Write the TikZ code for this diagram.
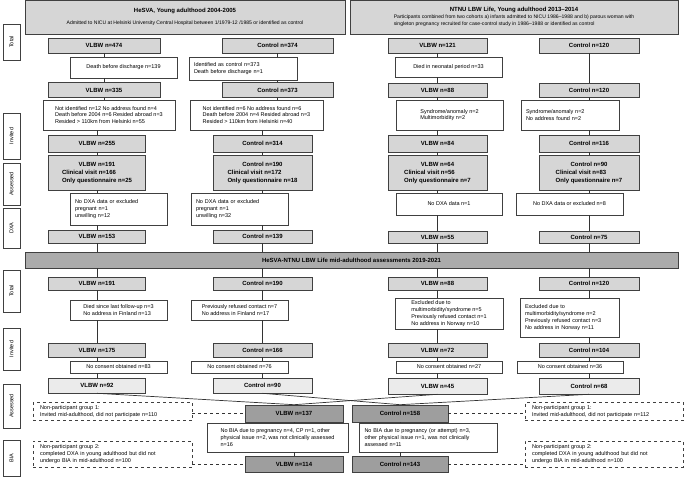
\documentclass[tikz,border=0pt]{standalone}
\usepackage{fontspec}
\setmainfont{Liberation Sans}
\begin{document}
\begin{tikzpicture}[x=1pt,y=-1pt,
    every node/.style={font=\fontsize{5.5}{6.8}\selectfont},
    box/.style={draw=black!75, line width=0.6pt, inner sep=1pt},
    gbox/.style={box, fill=black!16, font=\fontsize{6}{8}\selectfont\bfseries},
    lgbox/.style={gbox, fill=black!8},
    dgbox/.style={gbox, fill=black!38},
    hbox/.style={box, fill=black!16, align=center, font=\fontsize{5.1}{6.8}\selectfont},
    tbox/.style={box, fill=white, align=left},
    ltbox/.style={tbox, inner xsep=5pt},
    side/.style={box, fill=white, rotate=90, minimum height=17pt},
    npbox/.style={draw=black!75, dashed, line width=0.6pt, align=left, inner xsep=7pt, text width=145pt},
    link/.style={draw=black!80, line width=0.7pt}]
\useasboundingbox (0,0) rectangle (685,478);

% side labels
\node[side, minimum width=36pt] (sT1) at (11.5,42) {Total};
\node[side, minimum width=46pt] (sI1) at (11.5,136) {Invited};
\node[side, minimum width=42pt] (sA1) at (11.5,184) {Assessed};
\node[side, minimum width=40pt] (sD1) at (11.5,228) {DXA};
\node[side, minimum width=42pt] (sT2) at (11.5,291) {Total};
\node[side, minimum width=42pt] (sI2) at (11.5,349) {Invited};
\node[side, minimum width=44pt] (sA2) at (11.5,406) {Assessed};
\node[side, minimum width=36pt] (sB) at (11.5,458) {BIA};

% headers
\node[hbox, minimum width=320pt, minimum height=34pt] (hes) at (185,17)
    {{\fontsize{6}{7}\selectfont\bfseries HeSVA, Young adulthood 2004-2005}\\[5pt]
     Admitted to NICU at Helsinki University Central Hospital between 1/1979-12 /1985 or identified as control};
\node[hbox, minimum width=328pt, minimum height=34pt] (ntnu) at (514,17)
    {\begin{tabular}{@{}l@{}}\multicolumn{1}{@{}c@{}}{\fontsize{6}{7}\selectfont\bfseries NTNU LBW Life, Young adulthood 2013–2014}\\[1pt]
     Participants combined from two cohorts a) infants admitted to NICU 1986–1988 and b) parous woman with\\
     singleton pregnancy recruited for case-control study in 1986–1988 or identified as control\end{tabular}};
\node[gbox, fill=black!33, minimum width=653pt, minimum height=16pt] (banner) at (351.5,260)
    {HeSVA-NTNU LBW Life mid-adulthood assessments 2019-2021};

% HeSVA, VLBW
\node[gbox, minimum width=112pt, minimum height=15pt] (v474) at (104,45.5) {VLBW n=474};
\node[tbox, minimum width=107pt, minimum height=21pt] (d139) at (123.5,67.5) {Death before discharge n=139};
\node[gbox, minimum width=112pt, minimum height=15pt] (v335) at (104,90) {VLBW n=335};
\node[tbox, minimum width=132pt, minimum height=30pt] (nid1) at (109,115)
    {Not identified n=12 No address found n=4\\Death before 2004 n=6 Resided abroad n=3\\Resided > 110km from Helsinki n=55};
\node[gbox, minimum width=97pt, minimum height=17pt] (v255) at (97,143.5) {VLBW n=255};
\node[gbox, minimum width=97pt, minimum height=35pt] (v191) at (97,172.5)
    {\begin{tabular}{@{}l@{}}\multicolumn{1}{@{}c@{}}{VLBW n=191}\\Clinical visit n=166\\Only questionnaire n=25\end{tabular}};
\node[ltbox, text width=87pt, minimum height=32pt] (nd1) at (118.5,209)
    {No DXA data or excluded\\pregnant n=1\\unwilling n=12};
\node[gbox, minimum width=97pt, minimum height=13pt] (v153) at (97,236.5) {VLBW n=153};
\node[gbox, minimum width=97pt, minimum height=13pt] (v191b) at (97,283.5) {VLBW n=191};
\node[tbox, minimum width=97pt, minimum height=20pt] (dsl) at (118.5,310)
    {Died since last follow-up n=3\\No address in Finland n=13};
\node[gbox, minimum width=97pt, minimum height=14pt] (v175) at (97,350) {VLBW n=175};
\node[tbox, minimum width=97pt, minimum height=12pt] (nc83) at (118.5,367) {No consent obtained n=83};
\node[lgbox, minimum width=97pt, minimum height=15pt] (v92) at (97,385.5) {VLBW n=92};

% HeSVA, control
\node[gbox, minimum width=111pt, minimum height=15pt] (c374) at (277.5,45.5) {Control n=374};
\node[ltbox, text width=98pt, minimum height=23pt] (idc) at (243,68.5)
    {Identified as control n=373\\Death before discharge n=1};
\node[gbox, minimum width=111pt, minimum height=15pt] (c373) at (277.5,90) {Control n=373};
\node[tbox, minimum width=133pt, minimum height=30pt] (nid2) at (256.5,115)
    {Not identified n=6 No address found n=6\\Death before 2004 n=4 Resided abroad n=3\\Resided > 110km from Helsinki n=40};
\node[gbox, minimum width=99pt, minimum height=17pt] (c314) at (262.5,143.5) {Control n=314};
\node[gbox, minimum width=99pt, minimum height=35pt] (c190) at (262.5,172.5)
    {\begin{tabular}{@{}l@{}}\multicolumn{1}{@{}c@{}}{Control n=190}\\Clinical visit n=172\\Only questionnaire n=18\end{tabular}};
\node[ltbox, text width=87pt, minimum height=32pt] (ndc) at (239.5,209)
    {No DXA data or excluded\\pregnant n=1\\unwilling n=32};
\node[gbox, minimum width=99pt, minimum height=13pt] (c139) at (262.5,236.5) {Control n=139};
\node[gbox, minimum width=99pt, minimum height=13pt] (c190b) at (262.5,283.5) {Control n=190};
\node[tbox, minimum width=97pt, minimum height=20pt] (prc) at (239.5,310)
    {Previously refused contact n=7\\No address in Finland n=17};
\node[gbox, minimum width=99pt, minimum height=14pt] (c166) at (262.5,350) {Control n=166};
\node[tbox, minimum width=97pt, minimum height=12pt] (nc76) at (239.5,367) {No consent obtained n=76};
\node[lgbox, minimum width=99pt, minimum height=15pt] (c90) at (262.5,385.5) {Control n=90};

% NTNU, VLBW
\node[gbox, minimum width=99pt, minimum height=15pt] (n121) at (437.5,45.5) {VLBW n=121};
\node[tbox, minimum width=107pt, minimum height=20pt] (dnp) at (448.5,67) {Died in neonatal period n=33};
\node[gbox, minimum width=99pt, minimum height=14pt] (n88) at (437.5,90) {VLBW n=88};
\node[tbox, minimum width=107pt, minimum height=30pt] (syn1) at (449.5,115)
    {Syndrome/anomaly n=2\\Multimorbidity n=2};
\node[gbox, minimum width=99pt, minimum height=17pt] (n84) at (437.5,143.5) {VLBW n=84};
\node[gbox, minimum width=99pt, minimum height=35pt] (n64) at (437.5,172.5)
    {\begin{tabular}{@{}l@{}}\multicolumn{1}{@{}c@{}}{VLBW n=64}\\Clinical visit n=56\\Only questionnaire n=7\end{tabular}};
\node[tbox, minimum width=106pt, minimum height=22pt] (ndn) at (449,204) {No DXA data n=1};
\node[gbox, minimum width=99pt, minimum height=12pt] (n55) at (437.5,237) {VLBW n=55};
\node[gbox, minimum width=99pt, minimum height=13pt] (n88b) at (437.5,283.5) {VLBW n=88};
\node[tbox, minimum width=108pt, minimum height=31pt] (exv) at (449,313.5)
    {Excluded due to\\multimorbidity/syndrome n=5\\Previously refused contact n=1\\No address in Norway n=10};
\node[gbox, minimum width=99pt, minimum height=14pt] (n72) at (437.5,350) {VLBW n=72};
\node[tbox, minimum width=106pt, minimum height=12pt] (nc27) at (449,367) {No consent obtained n=27};
\node[lgbox, minimum width=99pt, minimum height=16pt] (n45) at (437.5,386) {VLBW n=45};

% NTNU, control
\node[gbox, minimum width=100pt, minimum height=15pt] (m120) at (589,45.5) {Control n=120};
\node[gbox, minimum width=100pt, minimum height=14pt] (m120a) at (589,90) {Control n=120};
\node[ltbox, text width=88pt, minimum height=30pt] (syn2) at (570,115)
    {Syndrome/anomaly n=2\\No address found n=2};
\node[gbox, minimum width=100pt, minimum height=17pt] (m116) at (589,143.5) {Control n=116};
\node[gbox, minimum width=100pt, minimum height=35pt] (m90) at (589,172.5)
    {\begin{tabular}{@{}l@{}}\multicolumn{1}{@{}c@{}}{Control n=90}\\Clinical visit n=83\\Only questionnaire n=7\end{tabular}};
\node[tbox, minimum width=107pt, minimum height=22pt] (ndm) at (569.5,204) {No DXA data or excluded n=8};
\node[gbox, minimum width=100pt, minimum height=12pt] (m75) at (589,237) {Control n=75};
\node[gbox, minimum width=100pt, minimum height=13pt] (m120b) at (589,283.5) {Control n=120};
\node[ltbox, text width=89pt, minimum height=39pt] (exm) at (569.5,317.5)
    {Excluded due to\\multimorbidity/syndrome n=2\\Previously refused contact n=3\\No address in Norway n=11};
\node[gbox, minimum width=100pt, minimum height=14pt] (m104) at (589,350) {Control n=104};
\node[tbox, minimum width=106pt, minimum height=12pt] (nc36) at (570,367) {No consent obtained n=36};
\node[lgbox, minimum width=100pt, minimum height=16pt] (m68) at (589,386) {Control n=68};

% pooled, BIA
\node[dgbox, minimum width=98pt, minimum height=17pt] (b137) at (294,413.5) {VLBW n=137};
\node[dgbox, minimum width=96pt, minimum height=17pt] (b158) at (400,413.5) {Control n=158};
\node[tbox, minimum width=141pt, minimum height=29pt] (nb1) at (277.5,437.5)
    {No BIA due to pregnancy n=4, CP n=1, other\\physical issue n=2, was not clinically assessed\\n=16};
\node[ltbox, text width=128pt, minimum height=29pt] (nb2) at (428.5,437.5)
    {No BIA due to pregnancy (or attempt) n=3,\\other physical issue n=1, was not clinically\\assessed n=11};
\node[dgbox, minimum width=98pt, minimum height=16pt] (b114) at (294,464) {VLBW n=114};
\node[dgbox, minimum width=96pt, minimum height=16pt] (b143) at (400,464) {Control n=143};
\node[npbox, minimum height=15pt] (np1L) at (112.5,411.5)
    {Non-participant group 1:\\Invited mid-adulthood, did not participate n=110};
\node[npbox, minimum height=26pt] (np2L) at (112.5,454)
    {Non-participant group 2:\\completed DXA in young adulthood but did not\\undergo BIA in mid-adulthood n=100};
\node[npbox, text width=144pt, minimum height=15pt] (np1R) at (604,411.5)
    {Non-participant group 1:\\Invited mid-adulthood, did not participate n=112};
\node[npbox, text width=144pt, minimum height=26pt] (np2R) at (604,454)
    {Non-participant group 2:\\completed DXA in young adulthood but did not\\undergo BIA in mid-adulthood n=100};

% connectors through the side boxes
\foreach \a/\s/\b in {v474/d139/v335, v335/nid1/v255, v191/nd1/v153, v191b/dsl/v175, v175/nc83/v92,
    c374/idc/c373, c373/nid2/c314, c190/ndc/c139, c190b/prc/c166, c166/nc76/c90,
    n121/dnp/n88, n88/syn1/n84, n64/ndn/n55, n88b/exv/n72, n72/nc27/n45,
    m120a/syn2/m116, m90/ndm/m75, m120b/exm/m104, m104/nc36/m68,
    b137/nb1/b114, b158/nb2/b143}
{
    \draw[link] (\a.south) -- (\a.south |- \s.north);
    \draw[link] (\s.south -| \b.north) -- (\b.north);
}
\foreach \a/\b in {v255/v191, c314/c190, n84/n64, m116/m90, m120/m120a,
    v92/b137, n45/b137, c90/b158, m68/b158}
{
    \draw[link] (\a.south) -- (\b.north);
}
\foreach \a in {v153, c139, n55, m75}
    \draw[link] (\a.south) -- (\a.south |- banner.north);
\foreach \b in {v191b, c190b, n88b, m120b}
    \draw[link] (\b.north |- banner.south) -- (\b.north);

% non-participants
\draw[link, dashed] (np1L.east |- b137.west) -- (b137.west);
\draw[link, dashed] (np2L.east |- b114.west) -- (b114.west);
\draw[link, dashed] (b158.east) -- (b158.east -| np1R.west);
\draw[link, dashed] (b143.east) -- (b143.east -| np2R.west);

\end{tikzpicture}
\end{document}
